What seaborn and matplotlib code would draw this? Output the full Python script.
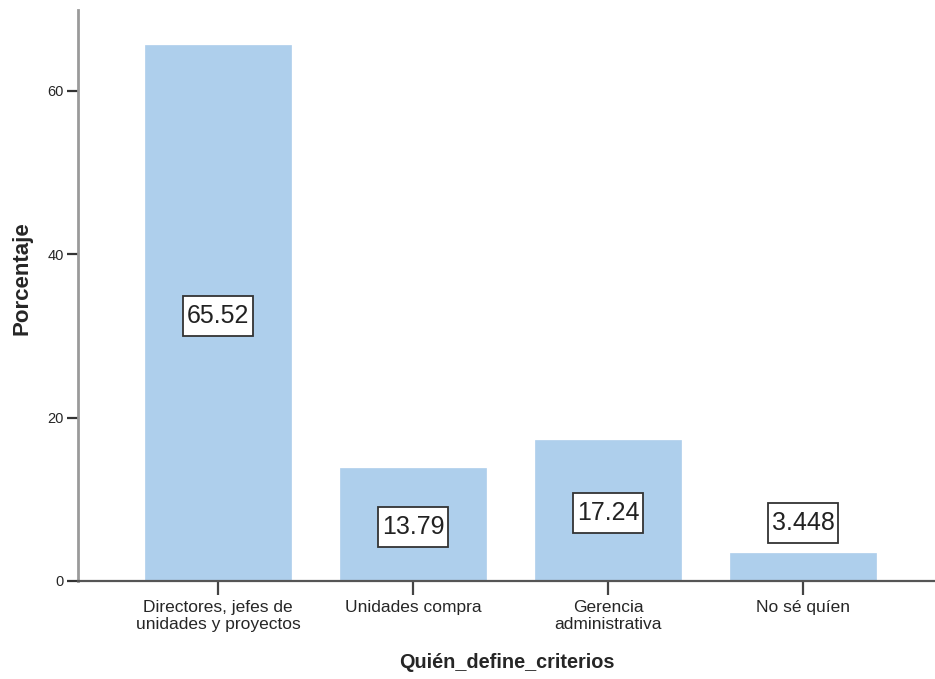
import matplotlib
matplotlib.use("Agg")
import matplotlib.pyplot as plt
import matplotlib.transforms as mtransforms
from matplotlib.path import Path
import seaborn as sns
import pandas as pd

categorias = ["Directores, jefes de\nunidades y proyectos", "Unidades compra",
              "Gerencia\nadministrativa", "No sé quíen"]
porcentajes = [65.52, 13.79, 17.24, 3.448]
etiquetas = ["65.52", "13.79", "17.24", "3.448"]
y_ticks = [0, 20, 40, 60]

sns.set_theme(style="white")
plt.rcParams["font.family"] = ["Liberation Sans", "DejaVu Sans"]

df = pd.DataFrame({"Quién_define_criterios": categorias, "Porcentaje": porcentajes})

fig = plt.figure(figsize=(9.35, 6.79), dpi=100)
ax = fig.add_axes([78 / 935, 98 / 679, 857 / 935, 571 / 679])

sns.barplot(data=df, x="Quién_define_criterios", y="Porcentaje", ax=ax,
            color="#aecfec", saturation=1, width=0.749, edgecolor="#aecfec",
            linewidth=0.5)

ax.set_xlim(-0.718, 3.677)
ax.set_ylim(0, 69.85)
ax.set_yticks(y_ticks)
ax.set_yticklabels([str(t) for t in y_ticks], fontsize=10.5)

for s in ["top", "right"]:
    ax.spines[s].set_visible(False)
ax.spines["left"].set_color("#9a9a9a")
ax.spines["left"].set_linewidth(2.0)
ax.spines["bottom"].set_color("#555555")
ax.spines["bottom"].set_linewidth(1.6)

ax.tick_params(axis="y", direction="out", length=8, width=1.6, color="#333333",
               pad=2, left=True)
ax.tick_params(axis="x", direction="out", length=10, width=1.6, color="#444444",
               pad=4, labelsize=12.5, bottom=True)
for lbl in ax.get_xticklabels():
    lbl.set_linespacing(1.12)

ax.set_xlabel("Quién_define_criterios", fontsize=14.3, fontweight="bold", labelpad=15)
ax.set_ylabel("Porcentaje", fontsize=16, fontweight="bold")
# rotated y-label: its baseline side sits at x ≈ 33 px, centred at y ≈ 278 px
ax.yaxis.set_label_coords((33 - 78) / 857, (581 - 278) / 571)


def label_box(x0, y0, width, height, mutation_size, pad_x=4.0, pad_y=8.0):
    """Square box with separate horizontal and vertical padding (pixels)."""
    x0 -= pad_x
    y0 -= pad_y
    x1 = x0 + width + 2 * pad_x
    y1 = y0 + height + 2 * pad_y
    return Path([(x0, y0), (x1, y0), (x1, y1), (x0, y1), (x0, y0)],
                closed=True)


shift = mtransforms.ScaledTranslation(0, -2.5 / 100, fig.dpi_scale_trans)

# value labels: centred in the bar, lifted above it when the bar is too short
for i, (v, txt) in enumerate(zip(porcentajes, etiquetas)):
    y = v / 2 if v / 2 > 4 else v + 3.9
    ax.text(i, y, txt, ha="center", va="center", fontsize=18, color="#222222",
            transform=ax.transData + shift,
            bbox=dict(boxstyle=label_box, facecolor="white",
                      edgecolor="#333333", linewidth=1.3))

fig.savefig("out.png", dpi=100)
